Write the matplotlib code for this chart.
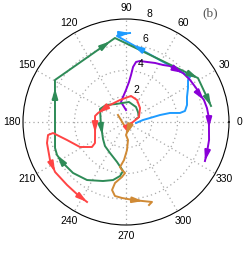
import numpy as np
import matplotlib
matplotlib.use('Agg')
import matplotlib.pyplot as plt

# trajectories: angle (deg), radius
purple_theta = [90, 104, 96.8, 90, 85.7, 83.9, 82.7, 80.5, 77.1, 70.7, 63.8, 57.0, 51.8,
                45.6, 40.7, 33.3, 25.9, 20.0, 15.8, 9.8, 2.8, 355.9, 347.8, 339.7, 333.7]
purple_r = [0.93, 1.60, 1.96, 2.49, 3.12, 3.67, 4.31, 4.73, 4.86, 4.94, 5.11, 5.28, 5.53,
            5.66, 5.84, 5.95, 6.05, 6.12, 6.29, 6.38, 6.45, 6.46, 6.60, 6.71, 6.84]

blue_theta = [354.3, 6.7, 9.5, 11.6, 11.6, 9.5, 10.6, 15.6, 22.3, 28.7, 34.1, 35.1,
              96.0, 93.9, 87.4]
blue_r = [0.78, 1.33, 1.89, 2.70, 3.49, 4.25, 4.66, 4.92, 5.12, 5.49, 5.82, 6.08,
          6.72, 6.85, 6.92]

green_theta = [16.7, 21.0, 39.8, 56.3, 81.5, 119.1, 139.6, 153.4, 186.8, 216.5, 228.8,
               242.7, 257.3, 263.8, 266.5, 263.7, 257.4, 248.7, 236.1, 223.9, 213.1,
               205.6, 200.1, 149.4, 97.5, 31.4, 10.7]
green_r = [0.81, 1.08, 1.21, 1.40, 1.57, 1.60, 2.04, 2.26, 1.96, 2.22, 2.48,
           2.71, 3.18, 3.59, 3.81, 4.22, 4.62, 4.92, 5.43, 5.71, 5.84,
           5.94, 5.87, 6.41, 6.58, 6.55, 6.72]

red_theta = [296.6, 21.0, 45.0, 63.4, 79.1, 105.3, 138.4, 162.2, 169.0, 199.5, 214.1,
             216.3, 208.5, 197.0, 188.6, 189.5, 194.9, 206.6, 215.2, 226.9, 236.7, 244.0]
red_r = [0.35, 1.08, 1.54, 1.91, 2.06, 1.77, 1.87, 2.28, 2.45, 2.55, 2.91,
         3.28, 4.07, 4.79, 5.73, 6.14, 6.35, 6.60, 6.74, 6.70, 6.79, 6.91]

orange_theta = [138.8, 158.2, 236.3, 284.0, 270.0, 276.3, 272.0, 267.0, 262.4, 265.2,
                268.9, 265.8, 259.8, 258.4, 261.5, 267.0, 275.1, 282.1, 288.0, 285.5]
orange_r = [0.83, 0.42, 0.28, 0.64, 1.01, 1.41, 2.18, 2.96, 3.53, 3.74,
            3.96, 4.28, 4.81, 5.39, 5.81, 5.91, 6.08, 6.28, 6.53, 6.69]

angle_ticks = list(range(0, 360, 30))
radius_ticks = [2, 4, 6, 8]


def add_arrow(ax, th, r, i, color, frac=1.0):
    # arrow head on segment i-1 -> i, tip at frac along it
    t0, t1 = np.deg2rad(th[i - 1]), np.deg2rad(th[i])
    x0, y0 = r[i - 1] * np.cos(t0), r[i - 1] * np.sin(t0)
    x1, y1 = r[i] * np.cos(t1), r[i] * np.sin(t1)
    xt, yt = x0 + frac * (x1 - x0), y0 + frac * (y1 - y0)
    L = np.hypot(x1 - x0, y1 - y0)
    xs, ys = xt - 0.6 * (x1 - x0) / L, yt - 0.6 * (y1 - y0) / L
    ax.annotate('', xy=(np.arctan2(yt, xt), np.hypot(xt, yt)),
                xytext=(np.arctan2(ys, xs), np.hypot(xs, ys)),
                arrowprops=dict(arrowstyle='-|>,head_length=0.6,head_width=0.17',
                                color=color, lw=1.4, shrinkA=0, shrinkB=0),
                annotation_clip=False)


fig = plt.figure(figsize=(2.46, 2.66), dpi=100)
ax = fig.add_axes([23 / 246, 41 / 266, 206 / 246, 206 / 266], projection='polar')
ax.set_rlim(0, 8)
ax.set_rticks(radius_ticks[:-1])
ax.set_yticklabels([])
ax.set_thetagrids(angle_ticks, labels=[''] * len(angle_ticks))
ax.grid(True, color='#a8a8a8', linestyle=(0, (1, 2.5)), linewidth=0.9)
ax.spines['polar'].set_color('black')
ax.spines['polar'].set_linewidth(0.8)
ax.tick_params(length=0)

series = [
    (blue_theta, blue_r, '#1e9bff', [(12, 0.78), (14, 1.0)]),
    (purple_theta, purple_r, '#8a00d8', [(14, 1.0), (18, 1.0), (21, 1.0), (24, 1.0)]),
    (green_theta, green_r, '#2e8b57', [(9, 0.7), (21, 1.0), (23, 0.88), (24, 0.92), (25, 1.0), (26, 1.0)]),
    (red_theta, red_r, '#ff4444', [(1, 0.6), (7, 1.0), (9, 1.0), (18, 1.0), (21, 1.0)]),
    (orange_theta, orange_r, '#d08a35', [(4, 1.0), (17, 1.0)]),
]
for th, r, c, arrows in series:
    ax.plot(np.deg2rad(th), r, color=c, lw=1.4)
    for i, f in arrows:
        add_arrow(ax, th, r, i, c, f)

for a in angle_ticks:
    ax.text(np.deg2rad(a), 8.85, str(a), ha='center', va='center',
            fontsize=7.5, family='Liberation Sans', clip_on=False)
for rv in radius_ticks:
    ax.annotate(str(rv), xy=(np.deg2rad(80), rv), xytext=(4.3, 5.0),
                textcoords='offset points', ha='center', va='center',
                fontsize=7.5, family='Liberation Sans', annotation_clip=False)

fig.text(210 / 246, 1 - 13 / 266, '(b)', ha='center', va='center',
         fontsize=9.5, family='Liberation Serif', color='#555555')

fig.savefig('out.png', dpi=100)
